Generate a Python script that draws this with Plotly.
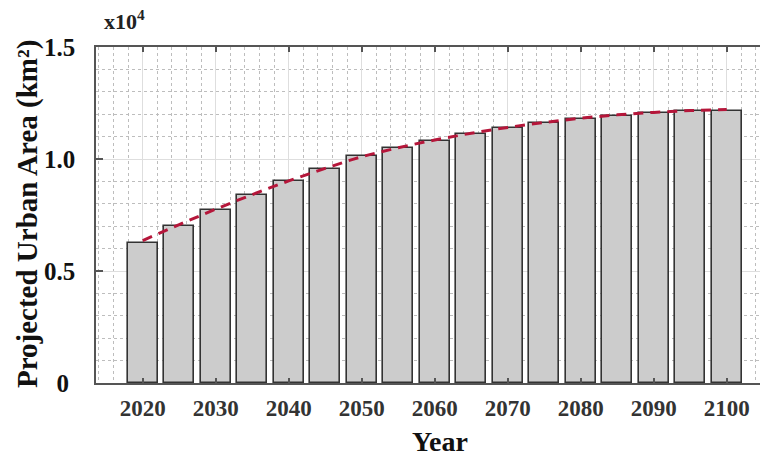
import plotly.graph_objects as go

years = [2020, 2025, 2030, 2035, 2040, 2045, 2050, 2055, 2060,
         2065, 2070, 2075, 2080, 2085, 2090, 2095, 2100]
urban_area = [0.627, 0.702, 0.773, 0.839, 0.903, 0.957, 1.015, 1.047, 1.082,
              1.112, 1.140, 1.162, 1.180, 1.190, 1.207, 1.215, 1.216]
trend = [0.636, 0.707, 0.776, 0.841, 0.902, 0.958, 1.010, 1.050, 1.085,
         1.115, 1.141, 1.163, 1.182, 1.197, 1.208, 1.216, 1.221]
x_ticks = [2020, 2030, 2040, 2050, 2060, 2070, 2080, 2090, 2100]
y_ticks = [0, 0.5, 1.0, 1.5]
y_ticklabels = ["0\u00a0", "0.5", "1.0", "1.5"]

FONT = "Liberation Serif"
AXC = "#555555"
L, R, T, B = 96, 760, 47, 383
PW, PH = R - L, B - T

fig = go.Figure()
fig.add_trace(go.Bar(
    x=years, y=urban_area, width=4.1,
    marker=dict(color="#cccccc", line=dict(color="#333333", width=1.6)),
    showlegend=False,
))
fig.add_trace(go.Scatter(
    x=years, y=trend, mode="lines",
    line=dict(color="#b5163a", width=3, dash="10px,7px", shape="spline"),
    showlegend=False,
))

fig.update_layout(
    width=761, height=456,
    margin=dict(l=L, r=761 - R, t=T, b=456 - B, autoexpand=False),
    paper_bgcolor="white", plot_bgcolor="white",
    font=dict(family=FONT, color="#222222"),
    bargap=0,
    xaxis=dict(
        range=[2013.6, 2104.56], automargin=False,
        tickmode="array", tickvals=x_ticks,
        ticks="inside", ticklen=5, tickwidth=1.5, tickcolor=AXC,
        showline=True, linecolor=AXC, linewidth=1.5, mirror="ticks",
        showgrid=True, gridcolor="#dedede", gridwidth=1,
        minor=dict(dtick=2, tick0=2020, showgrid=True, griddash="dot",
                   gridcolor="#bdbdbd", gridwidth=1, ticks=""),
        tickfont=dict(family=FONT, size=23, color="#333333", weight="bold"),
        ticklabelstandoff=4,
        zeroline=False,
    ),
    yaxis=dict(
        range=[0, 1.5], automargin=False,
        tickmode="array", tickvals=y_ticks, ticktext=y_ticklabels,
        ticks="inside", ticklen=7, tickwidth=1.5, tickcolor=AXC,
        showline=True, linecolor=AXC, linewidth=1.5,
        showgrid=True, gridcolor="#dedede", gridwidth=1,
        minor=dict(dtick=0.1, tick0=0, showgrid=True, griddash="dot",
                   gridcolor="#bdbdbd", gridwidth=1, ticks=""),
        tickfont=dict(family=FONT, size=25, color="#111111", weight="bold"),
        ticklabelstandoff=14,
        zeroline=False,
    ),
    annotations=[
        dict(text="<b>x10<sup>4</sup></b>", xref="paper", yref="paper",
             x=(102 - L) / PW, y=1 + (T - 20) / PH, xanchor="left", yanchor="middle",
             showarrow=False, font=dict(family=FONT, size=22, color="#222222")),
        dict(text="<b>Year</b>", xref="paper", yref="paper",
             x=(440 - L) / PW, y=-(441 - B) / PH, xanchor="center", yanchor="middle",
             showarrow=False, font=dict(family=FONT, size=28, color="#111111")),
        dict(text="<b>Projected Urban Area (km²)</b>", xref="paper", yref="paper",
             x=-(L - 27) / PW, y=(B - 214) / PH, xanchor="center", yanchor="middle",
             textangle=-90, showarrow=False,
             font=dict(family=FONT, size=29, color="#111111")),
    ],
)

fig.write_html("out.html", config={"displayModeBar": False},
               post_script="document.body.style.margin='0';")
